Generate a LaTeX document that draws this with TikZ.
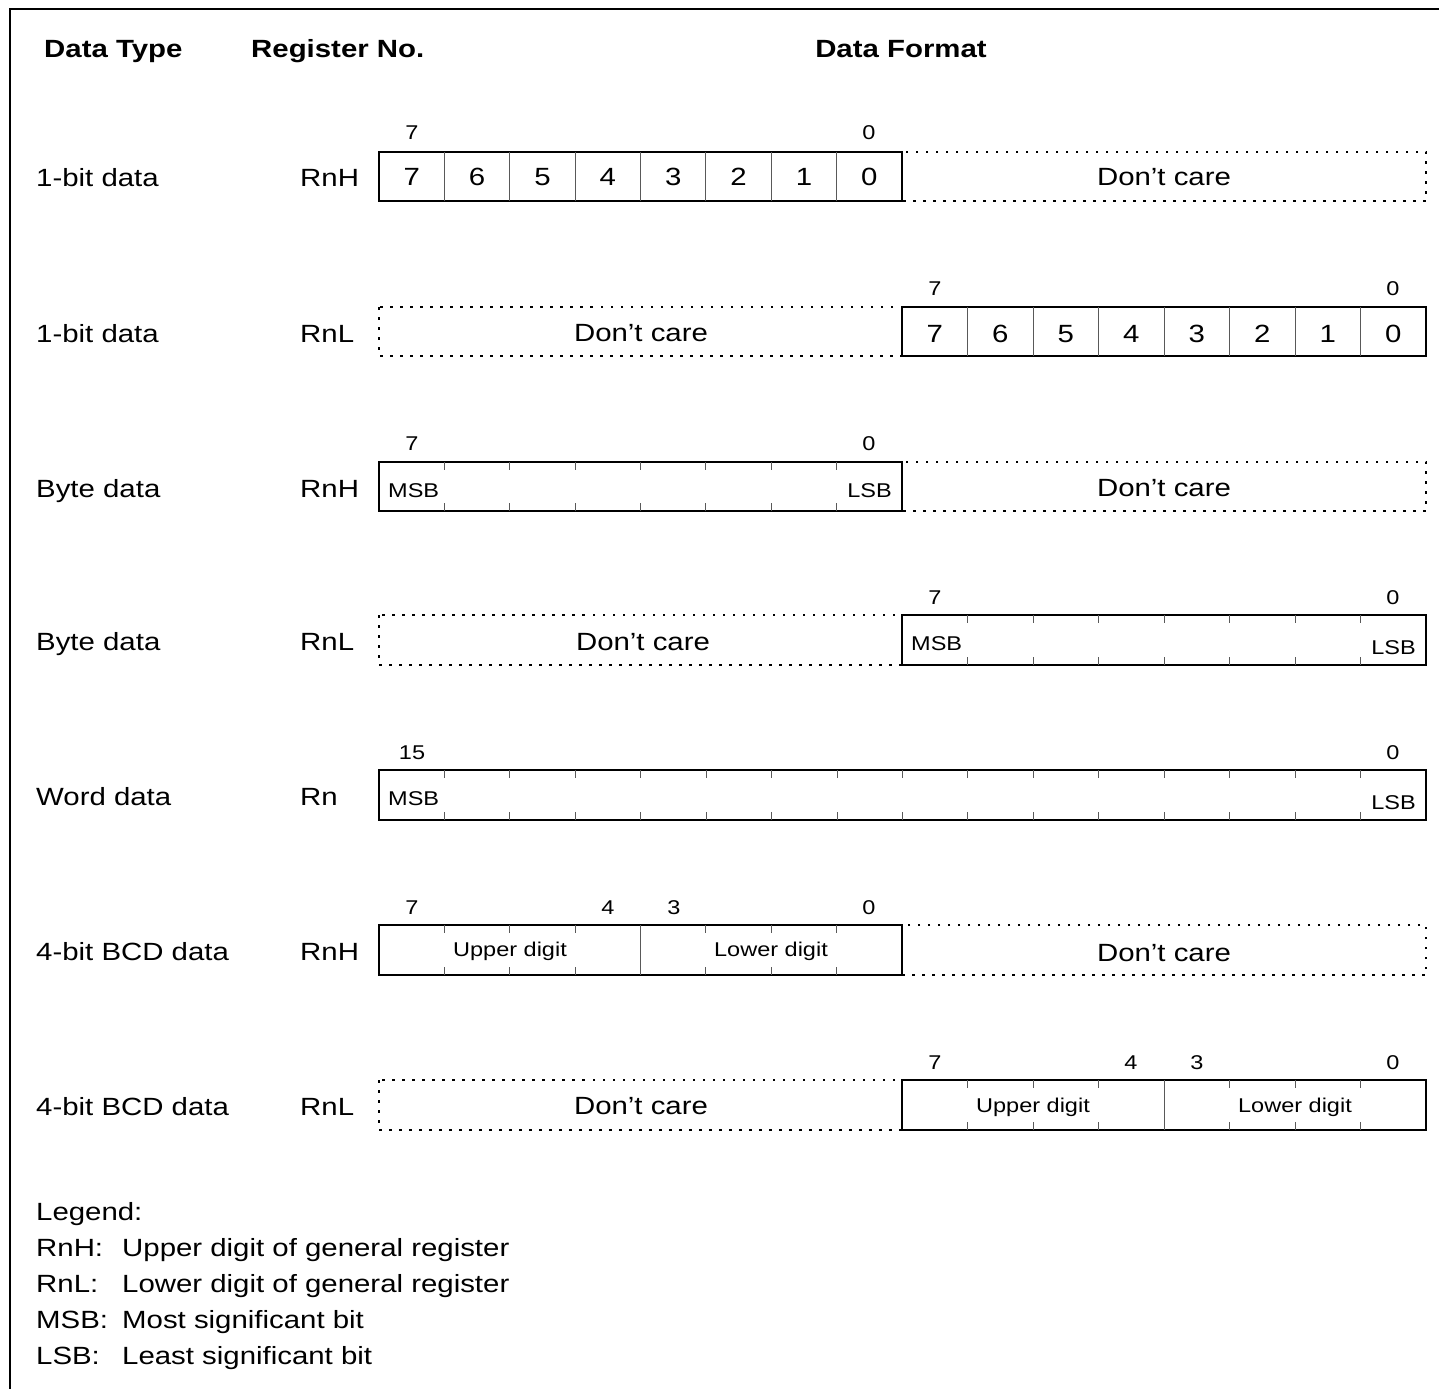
\documentclass[tikz,border=0pt]{standalone}
\usepackage{fontspec}
\setmainfont{Liberation Sans}[FakeStretch=1.18]
\begin{document}
\begin{tikzpicture}
            [x=1bp, y=-1bp,
              txt/.style={inner sep=0pt, anchor=base,
                font=\fontsize{25}{30}\selectfont},
              sml/.style={inner sep=0pt, anchor=base,
                font=\fontsize{20}{24}\selectfont},
              hdr/.style={txt, font=\fontsize{25}{30}\selectfont\bfseries},
              regbox/.style={draw=black, line width=1.6bp},
              dcbox/.style={draw=black, line width=1.8bp,
                dash pattern=on 2.5bp off 7.5bp},
              divider/.style={draw=black!65, line width=1bp}]
            \useasboundingbox (0,0) rectangle (1439,1389);
            \draw[line width=2bp] (10,1389) -- (10,9) -- (1439,9);
            % headings
            \node[hdr, anchor=base west] (hType) at (44,58) {Data Type};
            \node[hdr, anchor=base west] (hReg) at (251,58) {Register No.};
            \node[hdr] (hFmt) at (901,58) {Data Format};
            % row labels
            \foreach \t/\r/\y [count=\k] in {1-bit data/RnH/187, 1-bit data/RnL/342,
                Byte data/RnH/497, Byte data/RnL/650, Word data/Rn/805,
                4-bit BCD data/RnH/960, 4-bit BCD data/RnL/1115} {
              \node[txt, anchor=base west] (type\k) at (36,\y) {\t};
              \node[txt, anchor=base west] (reg\k) at (300,\y) {\r};
            }
            % 1-bit data, RnH
            \draw[dcbox] (902,152) rectangle (1426,201);
            \draw[regbox] (379,152) rectangle (902,201);
            \foreach \i in {1,...,7}
              \draw[divider] ({379+65.375*\i},152) -- ++(0,49);
            \foreach \b [count=\i from 0] in {7,...,0}
              \node[txt] (a\b) at ({379+65.375*(\i+0.5)},186) {\b};
            \node[sml] (aHi) at (412,140) {7};
            \node[sml] (aLo) at (869,140) {0};
            \node[txt] (aDc) at (1164,186) {Don’t care};
            % 1-bit data, RnL
            \draw[dcbox] (379,307) rectangle (902,356);
            \draw[regbox] (902,307) rectangle (1426,356);
            \foreach \i in {1,...,7}
              \draw[divider] ({902+65.5*\i},307) -- ++(0,49);
            \foreach \b [count=\i from 0] in {7,...,0}
              \node[txt] (b\b) at ({902+65.5*(\i+0.5)},342) {\b};
            \node[sml] (bHi) at (935,295) {7};
            \node[sml] (bLo) at (1393,295) {0};
            \node[txt] (bDc) at (641,341) {Don’t care};
            % byte data, RnH
            \draw[dcbox] (902,462) rectangle (1426,511);
            \draw[regbox] (379,462) rectangle (902,511);
            \foreach \i in {1,...,7}
              \draw[divider] ({379+65.375*\i},462) -- ++(0,8)
                ({379+65.375*\i},511) -- ++(0,-8);
            \node[sml, anchor=base west] (cMsb) at (388,497) {MSB};
            \node[sml, anchor=base east] (cLsb) at (892,497) {LSB};
            \node[sml] (cHi) at (412,450) {7};
            \node[sml] (cLo) at (869,450) {0};
            \node[txt] (cDc) at (1164,496) {Don’t care};
            % byte data, RnL
            \draw[dcbox] (379,615) rectangle (902,665);
            \draw[regbox] (902,615) rectangle (1426,665);
            \foreach \i in {1,...,7}
              \draw[divider] ({902+65.5*\i},615) -- ++(0,8)
                ({902+65.5*\i},665) -- ++(0,-8);
            \node[sml, anchor=base west] (dMsb) at (911,650) {MSB};
            \node[sml, anchor=base east] (dLsb) at (1416,654) {LSB};
            \node[sml] (dHi) at (935,604) {7};
            \node[sml] (dLo) at (1393,604) {0};
            \node[txt] (dDc) at (643,650) {Don’t care};
            % word data, Rn
            \draw[regbox] (379,770) rectangle (1426,820);
            \foreach \i in {1,...,15}
              \draw[divider] ({379+65.4375*\i},770) -- ++(0,8)
                ({379+65.4375*\i},820) -- ++(0,-8);
            \node[sml, anchor=base west] (eMsb) at (388,805) {MSB};
            \node[sml, anchor=base east] (eLsb) at (1416,809) {LSB};
            \node[sml] (eHi) at (412,759) {15};
            \node[sml] (eLo) at (1393,759) {0};
            % 4-bit BCD data, RnH
            \draw[dcbox] (902,925) rectangle (1426,975);
            \draw[regbox] (379,925) rectangle (902,975);
            \draw[divider] (640.5,925) -- (640.5,975);
            \foreach \i in {1,2,3,5,6,7}
              \draw[divider] ({379+65.375*\i},925) -- ++(0,8)
                ({379+65.375*\i},975) -- ++(0,-8);
            \node[sml] (fUp) at (510,956) {Upper digit};
            \node[sml] (fLow) at (771,956) {Lower digit};
            \foreach \b/\x in {7/412, 4/608, 3/674, 0/869}
              \node[sml] (f\b) at (\x,914) {\b};
            \node[txt] (fDc) at (1164,961) {Don’t care};
            % 4-bit BCD data, RnL
            \draw[dcbox] (379,1080) rectangle (902,1130);
            \draw[regbox] (902,1080) rectangle (1426,1130);
            \draw[divider] (1164,1080) -- (1164,1130);
            \foreach \i in {1,2,3,5,6,7}
              \draw[divider] ({902+65.5*\i},1080) -- ++(0,8)
                ({902+65.5*\i},1130) -- ++(0,-8);
            \node[sml] (gUp) at (1033,1112) {Upper digit};
            \node[sml] (gLow) at (1295,1112) {Lower digit};
            \foreach \b/\x in {7/935, 4/1131, 3/1197, 0/1393}
              \node[sml] (g\b) at (\x,1069) {\b};
            \node[txt] (gDc) at (641,1114) {Don’t care};
            % legend
            \node[txt, anchor=base west] (leg) at (36,1220) {Legend:};
            \foreach \a/\d [count=\k] in {RnH:/Upper digit of general register,
                RnL:/Lower digit of general register,
                MSB:/Most significant bit, LSB:/Least significant bit} {
              \node[txt, anchor=base west] (abbr\k) at (36,{1220+36.2*\k}) {\a};
              \node[txt, anchor=base west] (desc\k) at (122,{1220+36.2*\k}) {\d};
            }
        \end{tikzpicture}
\end{document}
